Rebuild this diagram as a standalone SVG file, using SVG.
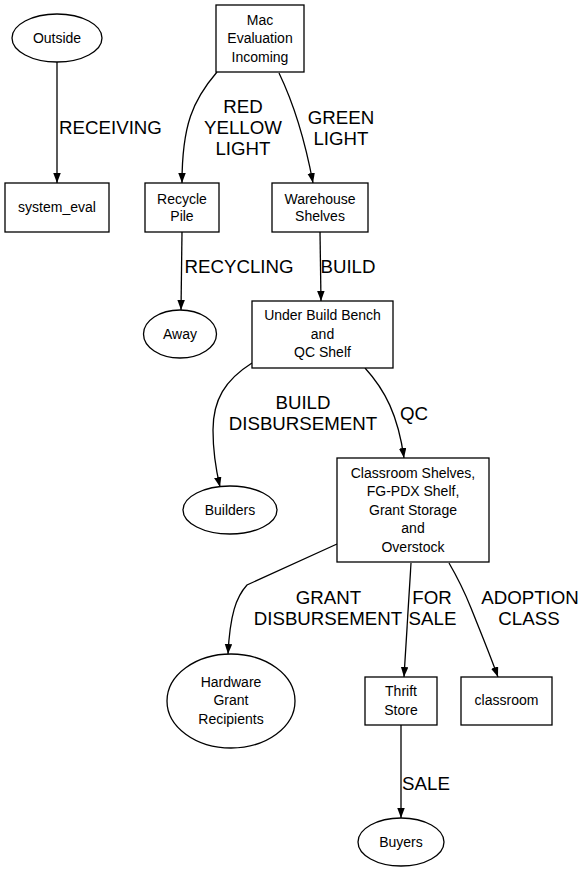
<svg xmlns="http://www.w3.org/2000/svg" width="585" height="872" viewBox="0 0 585 872">
<style>
.n{fill:#fff;stroke:#000;stroke-width:1.3}
.t{font-family:"Liberation Sans",Arial,sans-serif;font-size:14px;text-anchor:middle;fill:#000}
.e{fill:none;stroke:#000;stroke-width:1.3}
.l{font-family:"Liberation Sans",Arial,sans-serif;font-size:18.7px;text-anchor:middle;fill:#000}
</style>
<defs>
<marker id="a" markerUnits="userSpaceOnUse" markerWidth="11" markerHeight="8" refX="10" refY="3.75" orient="auto">
<path d="M0,0 L10,3.75 L0,7.5 z" fill="#000"/>
</marker>
</defs>
<rect width="585" height="872" fill="#fff"/>
<g id="edges">
<path class="e" d="M57,62 L57,183" marker-end="url(#a)"/>
<text class="l" x="110.5" y="134">RECEIVING</text>
<path class="e" d="M217,72 C193,100 182,125 182,183" marker-end="url(#a)"/>
<text class="l" x="243" y="113">RED</text>
<text class="l" x="243" y="134">YELLOW</text>
<text class="l" x="243" y="155">LIGHT</text>
<path class="e" d="M279,73 C292,100 304,135 313,183" marker-end="url(#a)"/>
<text class="l" x="341" y="124">GREEN</text>
<text class="l" x="341" y="145">LIGHT</text>
<path class="e" d="M182,232 L181,310" marker-end="url(#a)"/>
<text class="l" x="239" y="272.5">RECYCLING</text>
<path class="e" d="M320,232 L321,301" marker-end="url(#a)"/>
<text class="l" x="348" y="272.5">BUILD</text>
<path class="e" d="M252,363 C225,380 213,400 213,430 C213,452 216,470 220,487" marker-end="url(#a)"/>
<text class="l" x="303" y="409">BUILD</text>
<text class="l" x="303" y="430">DISBURSEMENT</text>
<path class="e" d="M365,368 C385,390 398,415 404,458" marker-end="url(#a)"/>
<text class="l" x="414" y="420">QC</text>
<path class="e" d="M337,544 L247,585 C236,597 230,615 228,654" marker-end="url(#a)"/>
<text class="l" x="328.5" y="603.5">GRANT</text>
<text class="l" x="328" y="625">DISBURSEMENT</text>
<path class="e" d="M411,563 L404,677" marker-end="url(#a)"/>
<text class="l" x="432" y="603.5">FOR</text>
<text class="l" x="432.5" y="625">SALE</text>
<path class="e" d="M449,563 C456,575 463,588 471,608 C479,628 489,652 498,677" marker-end="url(#a)"/>
<text class="l" x="530" y="603.5">ADOPTION</text>
<text class="l" x="529" y="625">CLASS</text>
<path class="e" d="M401,725 L401,818" marker-end="url(#a)"/>
<text class="l" x="426" y="790">SALE</text>
</g>
<g id="outside">
<ellipse class="n" cx="57" cy="38" rx="45" ry="24"/>
<text class="t" x="57" y="43">Outside</text>
</g>
<g id="mac">
<rect class="n" x="216" y="5" width="88" height="67"/>
<text class="t" x="260" y="24.5">Mac</text>
<text class="t" x="260" y="43">Evaluation</text>
<text class="t" x="260" y="61.5">Incoming</text>
</g>
<g id="system_eval">
<rect class="n" x="5" y="183" width="104" height="49"/>
<text class="t" x="57" y="212">system_eval</text>
</g>
<g id="recycle">
<rect class="n" x="145" y="183" width="74" height="49"/>
<text class="t" x="182" y="203.5">Recycle</text>
<text class="t" x="182" y="221">Pile</text>
</g>
<g id="warehouse">
<rect class="n" x="272" y="183" width="96" height="49"/>
<text class="t" x="320" y="203.5">Warehouse</text>
<text class="t" x="320" y="221">Shelves</text>
</g>
<g id="away">
<ellipse class="n" cx="180" cy="334" rx="36.5" ry="24"/>
<text class="t" x="180" y="339">Away</text>
</g>
<g id="underbuild">
<rect class="n" x="252" y="301" width="141" height="67"/>
<text class="t" x="322.5" y="320">Under Build Bench</text>
<text class="t" x="322.5" y="339">and</text>
<text class="t" x="322.5" y="357">QC Shelf</text>
</g>
<g id="builders">
<ellipse class="n" cx="230" cy="510" rx="47" ry="24"/>
<text class="t" x="230" y="515">Builders</text>
</g>
<g id="classroomshelves">
<rect class="n" x="337" y="458" width="152" height="104"/>
<text class="t" x="413" y="477.5">Classroom Shelves,</text>
<text class="t" x="413" y="496">FG-PDX Shelf,</text>
<text class="t" x="413" y="515">Grant Storage</text>
<text class="t" x="413" y="533">and</text>
<text class="t" x="413" y="551.5">Overstock</text>
</g>
<g id="hardware">
<ellipse class="n" cx="231" cy="701" rx="64" ry="47"/>
<text class="t" x="231" y="687">Hardware</text>
<text class="t" x="231" y="705">Grant</text>
<text class="t" x="231" y="724">Recipients</text>
</g>
<g id="thrift">
<rect class="n" x="365" y="677" width="72" height="48"/>
<text class="t" x="401" y="696">Thrift</text>
<text class="t" x="401" y="715">Store</text>
</g>
<g id="classroom">
<rect class="n" x="461" y="677" width="91" height="48"/>
<text class="t" x="506.5" y="705">classroom</text>
</g>
<g id="buyers">
<ellipse class="n" cx="401" cy="842" rx="43" ry="24"/>
<text class="t" x="401" y="847">Buyers</text>
</g>
</svg>
